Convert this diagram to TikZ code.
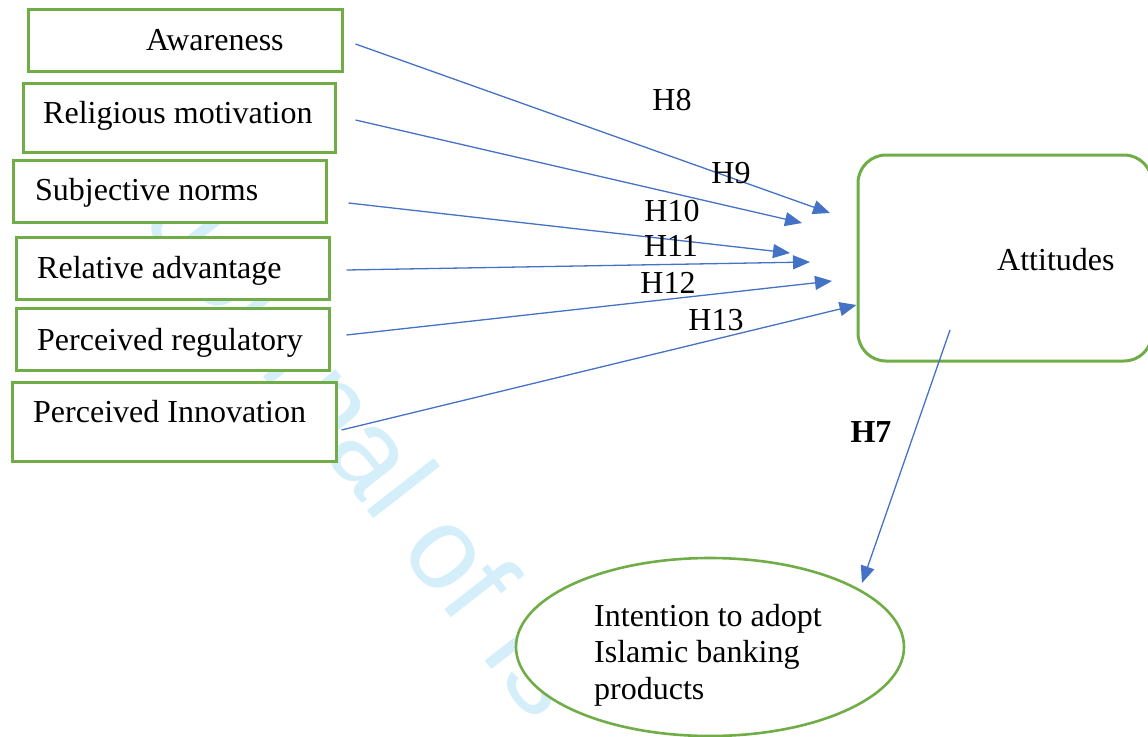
\documentclass[tikz,border=0pt]{standalone}
\usepackage{fontspec}
\setmainfont{Liberation Serif}
\newfontfamily\wmfont{Liberation Sans}
\usepackage{xcolor}
\usetikzlibrary{shapes.geometric, arrows.meta, positioning, calc}
\definecolor{boxgreen}{RGB}{112,173,71}
\definecolor{linkblue}{RGB}{68,114,196}
\definecolor{wmblue}{RGB}{212,238,250}

\tikzset{
    factor/.style={draw=boxgreen, line width=3pt, fill=white, inner sep=0pt},
    lbl/.style={inner sep=0pt, font=\fontsize{32}{36.5}\selectfont},
    hyp/.style={inner sep=0pt, font=\fontsize{32}{36}\selectfont},
    link/.style={draw=linkblue, line width=1.3pt, -{Triangle[length=17pt,width=14pt]}},
    wmark/.style={inner sep=0pt, text=wmblue, font=\wmfont\fontsize{117}{120}\selectfont}
}

\begin{document}
\begin{tikzpicture}[x=1pt,y=-1pt]
    \useasboundingbox (0,0) rectangle (1148,736);
    \clip (0,0) rectangle (1148,736);

    % watermark behind everything
    \node[wmark, rotate=-52, anchor=base west] (wm) at (142,222) {Journal of Is};

    % factors: name/left/top/right/bottom/text x/text baseline/text
    \foreach \n/\l/\t/\r/\b/\tx/\ty/\txt in {
        aw/28/9/342/71/146/50/Awareness,
        rm/23/83/335/152/43/123/Religious motivation,
        sn/13/160/326/222/35/200/Subjective norms,
        ra/16/237/329/299/37/278/Relative advantage,
        pr/16/308/329/370/37/350/Perceived regulatory,
        pi/12/382/336/461/33/422/Perceived Innovation}
    {
        \node[factor, minimum width={(\r-\l)*1pt}, minimum height={(\b-\t)*1pt}]
            (\n) at ({(\l+\r)/2},{(\t+\b)/2}) {};
        \node[lbl, anchor=base west] (\n-t) at (\tx,\ty) {\txt};
    }

    \node[factor, rounded corners=28pt, minimum width=294pt, minimum height=206pt] (att) at (1005,258) {};
    \node[lbl, anchor=base west] (att-t) at (997,270) {Attitudes};

    \node[factor, ellipse, line width=2.6pt, minimum width=388pt, minimum height=178pt] (int) at (710,647) {};
    \node[lbl, align=left, anchor=north west] (int-t) at (594,604) {Intention to adopt\\Islamic banking\\products};

    % paths into attitudes: name/start shift/tip
    \foreach \n/\dx/\dy/\ex/\ey in {
        aw/12/4/830/213,
        rm/19/2.5/802/223,
        sn/21/12/790/253,
        ra/16/2/810/262,
        pr/16/-4/832/281}
    {
        \coordinate (\n-e) at (\ex,\ey);
        \draw[link] ($(\n.east)+(\dx,\dy)$) -- (\n-e);
    }
    \draw[link] ($(pi.east)+(4,8.5)$) -- ($(att.west)+(0,47)$);

    \coordinate (int-e) at (862,583);
    \draw[link] ($(att.center)+(-55,72)$) -- (int-e);

    % hypothesis labels
    \foreach \h/\x/\y in {H8/672/100, H9/731/173, H10/672/211, H11/671/246, H12/668/283, H13/716/320}
        \node[hyp] (\h) at (\x,\y) {\h};
    \node[hyp, font=\fontsize{32}{36}\selectfont\bfseries] (H7) at (871,432) {H7};

\end{tikzpicture}
\end{document}
